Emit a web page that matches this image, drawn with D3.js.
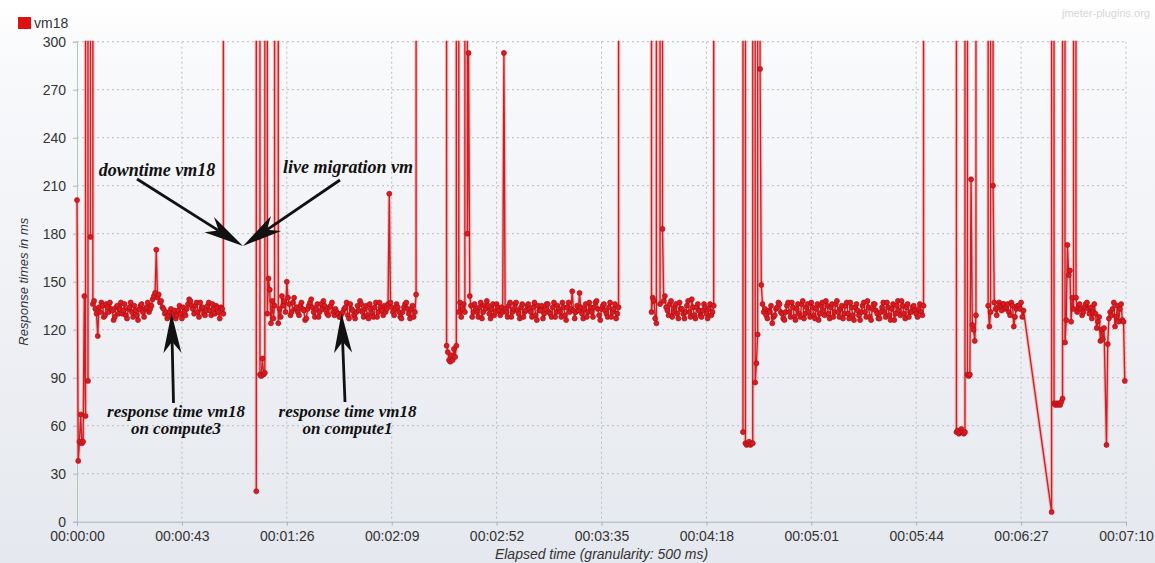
<!DOCTYPE html>
<html><head><meta charset="utf-8">
<script src="https://cdn.jsdelivr.net/npm/d3@7/dist/d3.min.js"></script>
<style>html,body{margin:0;padding:0;background:#fff;}svg{display:block;}</style>
</head><body>
<svg id="c" width="1155" height="563"></svg>
<script>
// ---------- data (elapsed seconds, response ms); 20000 = far above the 300 ms axis ----------
const seriesName = "vm18";
const yTickValues = [0,30,60,90,120,150,180,210,240,270,300];
const xTickSeconds = [0,43,86,129,172,215,258,301,344,387,430];
const xTickLabels = ["00:00:00","00:00:43","00:01:26","00:02:09","00:02:52","00:03:35","00:04:18","00:05:01","00:05:44","00:06:27","00:07:10"];

const seg1 = [[0,201],[0.5,38],[1,50],[1.5,67],[2,49],[2.5,50],[3,141],[3.5,66],[4,20000],[4.5,88],[5,20000],[5.5,178],[6,20000],
[6.5,136],[7,138],[7.5,133],[8,130],[8.5,116],[9,134],[9.5,131],[10,137],[10.5,135],[11,128],[11.5,129],[12,136],[12.5,134],[13,131],[13.5,137],[14,133],[14.5,132],[15,126],[15.5,128],[16,134],[16.5,135],[17,130],[17.5,133],[18,137],[18.5,130],[19,132],[19.5,136],[20,129],[20.5,127],[21,133],[21.5,134],[22,137],[22.5,131],[23,128],[23.5,135],[24,132],[24.5,129],[25,126],[25.5,133],[26,135],[26.5,136],[27,131],[27.5,128],[28,133],[28.5,134],[29,137],[29.5,131],[30,133],[30.5,135],[31,139],[31.5,141],[32,143],[32.5,170],[33,140],[33.5,142],[34,137],[34.5,138],[35,134],[35.5,133],[36,130],[36.5,131],[37,127],[37.5,129],[38,131],[38.5,133],[39,128],[39.5,130],[40,132],[40.5,127],[41,129],[41.5,132],[42,135],[42.5,130],[43,127],[43.5,134],[44,131],[44.5,129],[45,133],[45.5,136],[46,139],[46.5,138],[47,135],[47.5,133],[48,130],[48.5,135],[49,137],[49.5,131],[50,128],[50.5,137],[51,133],[51.5,134],[52,130],[52.5,129],[53,132],[53.5,135],[54,137],[54.5,132],[55,129],[55.5,136],[56,133],[56.5,130],[57,135],[57.5,134],[58,131],[58.5,127],[59,134],[59.5,133],[60,130],[60.5,20000]];

const seg2 = [[73,20000],[73.5,19],[74,20000],[74.5,20000],[75,92],[75.5,91],[76,102],[76.5,92],[77,93],[77.5,20000],[78,130],[78.5,152],[79,145],[79.5,124],[80,138],[80.5,127],[81,135],[82,20000],[82.5,124],[83,133],[83.5,128],[84,141],[84.5,135],[85,138],[85.5,131],[86,150],[86.5,140],[87,136],[87.5,129],[88,131],[88.5,137],[89,140],[89.5,133],
[90,134],[90.5,131],[91,129],[91.5,135],[92,137],[92.5,133],[93,132],[93.5,126],[94,127],[94.5,133],[95,135],[95.5,137],[96,139],[96.5,134],[97,131],[97.5,128],[98,133],[98.5,136],[99,128],[99.5,131],[100,136],[100.5,133],[101,138],[101.5,135],[102,132],[102.5,130],[103,129],[103.5,134],[104,135],[104.5,137],[105,131],[105.5,129],[106,133],[106.5,131],[107,130],[107.5,128],[108,128],[108.5,130],[109,131],[109.5,133],[110,134],[110.5,137],[111,129],[111.5,127],[112,136],[112.5,133],[113,132],[113.5,129],[114,127],[114.5,131],[115,135],[115.5,132],[116,138],[116.5,136],[117,131],[117.5,128],[118,133],[118.5,135],[119,129],[119.5,127],[120,136],[120.5,133],[121,130],[121.5,128],[122,134],[122.5,137],[123,128],[123.5,131],[124,137],[124.5,134],[125,132],[125.5,129],[126,135],[126.5,131],[127,133],[127.5,136],[128,205],[128.5,137],[129,134],[129.5,131],[130,129],[130.5,133],[131,136],[131.5,134],[132,131],[132.5,128],[133,127],[133.5,131],[134,134],[134.5,136],[135,137],[135.5,133],[136,130],[136.5,127],[137,133],[137.5,135],[138,128],[138.5,131],[139,142],[139.5,20000]];

const seg3 = [[151,20000],[151.5,110],[152,106],[152.5,101],[153,100],[153.5,104],[154,101],[154.5,108],[155,103],[155.5,110],[156,20000],[156.5,131],[157,137],[157.5,128],[158,133],[158.5,136],[159,131],[159.5,20000],[160,180],[160.5,293],[161,141],[161.5,135],
[162,128],[162.5,131],[163,136],[163.5,133],[164,131],[164.5,128],[165,134],[165.5,137],[166,127],[166.5,131],[167,135],[167.5,133],[168,138],[168.5,135],[169,130],[169.5,127],[170,133],[170.5,136],[171,129],[171.5,131],[172,136],[172.5,134],[173,132],[173.5,129],[174,134],[174.5,131],[175,293],[175.5,133],[176,131],[176.5,128],[177,135],[177.5,137],[178,128],[178.5,131],[179,133],[179.5,136],[180,137],[180.5,132],[181,130],[181.5,127],[182,134],[182.5,136],[183,128],[183.5,131],[184,132],[184.5,135],[185,136],[185.5,133],[186,131],[186.5,128],[187,134],[187.5,137],[188,129],[188.5,126],[189,135],[189.5,132],[190,132],[190.5,135],[191,127],[191.5,130],[192,133],[192.5,136],[193,136],[193.5,131],[194,130],[194.5,128],[195,134],[195.5,137],[196,128],[196.5,131],[197,135],[197.5,133],[198,131],[198.5,128],[199,137],[199.5,134],[200,129],[200.5,126],[201,134],[201.5,137],[202,131],[202.5,133],[203,144],[203.5,132],[204,127],[204.5,131],[205,135],[205.5,132],[206,143],[206.5,134],[207,130],[207.5,127],[208,133],[208.5,136],[209,128],[209.5,131],[210,137],[210.5,134],[211,131],[211.5,128],[212,134],[212.5,137],[213,138],[213.5,133],[214,129],[214.5,126],[215,133],[215.5,135],[216,136],[216.5,132],[217,130],[217.5,128],[218,134],[218.5,137],[219,128],[219.5,131],[220,133],[220.5,136],[221,127],[221.5,130],[222,134],[222.5,20000]];

const seg4 = [[235,20000],[235.5,131],[236,140],[236.5,138],[237,127],[237.5,124],[238,20000],[239,136],[239.5,20000],[240,183],[240.5,138],
[241,141],[241.5,134],[242,132],[242.5,129],[243,136],[243.5,138],[244,128],[244.5,131],[245,134],[245.5,136],[246,130],[246.5,127],[247,137],[247.5,133],[248,133],[248.5,130],[249,127],[249.5,131],[250,135],[250.5,138],[251,131],[251.5,128],[252,139],[252.5,134],[253,129],[253.5,127],[254,134],[254.5,136],[255,132],[255.5,129],[256,128],[256.5,132],[257,136],[257.5,134],[258,130],[258.5,127],[259,133],[259.5,136],[260,129],[260.5,131],[261,135],[261.5,20000]];

const seg5 = [[272.5,20000],[273,56],[273.5,20000],[274,49],[274.5,48],[275,49],[275.5,50],[276,48],[276.5,49],[277,49],[277.5,20000],[278,87],[278.5,99],[279,117],[279.5,20000],[280,283],[280.5,148],
[281,136],[281.5,131],[282,133],[282.5,129],[283,127],[283.5,132],[284,131],[284.5,135],[285,124],[285.5,128],[286,129],[286.5,133],[287,134],[287.5,137],[288,136],[288.5,131],[289,130],[289.5,127],[290,126],[290.5,131],[291,135],[291.5,137],[292,131],[292.5,128],[293,137],[293.5,134],[294,128],[294.5,126],[295,133],[295.5,136],[296,130],[296.5,128],[297,136],[297.5,138],[298,127],[298.5,130],[299,134],[299.5,136],[300,131],[300.5,128],[301,137],[301.5,134],[302,129],[302.5,127],[303,133],[303.5,136],[304,126],[304.5,130],[305,135],[305.5,137],[306,132],[306.5,129],[307,138],[307.5,135],[308,130],[308.5,127],[309,134],[309.5,136],[310,128],[310.5,131],[311,136],[311.5,138],[312,131],[312.5,128],[313,133],[313.5,135],[314,127],[314.5,130],[315,135],[315.5,137],[316,130],[316.5,127],[317,137],[317.5,134],[318,129],[318.5,126],[319,134],[319.5,136],[320,132],[320.5,129],[321,126],[321.5,131],[322,135],[322.5,137],[323,131],[323.5,128],[324,138],[324.5,134],[325,128],[325.5,126],[326,133],[326.5,136],[327,136],[327.5,132],[328,130],[328.5,127],[329,127],[329.5,131],[330,134],[330.5,137],[331,131],[331.5,128],[332,137],[332.5,134],[333,129],[333.5,126],[334,133],[334.5,136],[335,126],[335.5,130],[336,135],[336.5,138],[337,132],[337.5,129],[338,138],[338.5,135],[339,130],[339.5,127],[340,134],[340.5,136],[341,128],[341.5,131],[342,131],[342.5,134],[343,135],[343.5,132],[344,130],[344.5,128],[345,133],[345.5,136],[346,131],[346.5,129],[347,135],[347.5,20000]];

const seg6 = [[360,20000],[360.5,56],[361,57],[361.5,55],[362,56],[362.5,58],[363,56],[363.5,55],[364,56],[364.5,20000],[365,92],[365.5,91],[366,92],[366.5,214],[367,123],[367.5,120],[368,113],[368.5,129],[369,20000],
[373,20000],[373.5,135],[374,122],[374.5,131],[375,20000],[375.5,210],[376,137],[376.5,133],[377,129],[377.5,134],[378,137],[378.5,135],[379,132],[379.5,136],[380,136],[380.5,133],[381,134],[381.5,136],[382,131],[382.5,129],[383,137],[383.5,135],[384,122],[384.5,128],[385,133],[385.5,135],[386,135],[386.5,133],[387,137],[387.5,128],[388,132],
[399.5,6],[400,20000],[400.5,74],[401,73],[401.5,74],[402,73],[402.5,74],[403,73],[403.5,75],[404,77],[404.5,20000],[405,112],[405.5,126],[406,173],[406.5,154],[407,157],[407.5,125],[408,140],[408.5,133],[409,20000],[409.5,140],
[410,131],[410.5,134],[411,136],[411.5,133],[412,129],[412.5,131],[413,134],[413.5,136],[414,137],[414.5,133],[415,130],[415.5,134],[416,127],[416.5,131],[417,136],[417.5,130],[418,121],[418.5,125],[419,128],[419.5,113],[420,120],[420.5,114],[421,121],[422,48],[422.5,111],[423,127],[423.5,131],[424,129],[424.5,133],[425,137],[425.5,122],[426,128],[426.5,135],[427,125],[427.5,133],[428,136],[428.5,126],[429,125],[429.5,88]];

const responseData = [].concat(seg1, seg2, seg3, seg4, seg5, seg6);

// ---------- annotations ----------
const annotations = [
  {lines:["downtime vm18"], x:157, y:176, size:18},
  {lines:["live migration vm"], x:348, y:173, size:18},
  {lines:["response time vm18","on compute3"], x:176, y:417, size:17},
  {lines:["response time vm18","on compute1"], x:347.5, y:417, size:17}
];
const arrows = [
  {from:[137,179], to:[243,246]},
  {from:[340,180], to:[243,246]},
  {from:[173.5,403], to:[171.5,313]},
  {from:[345,402], to:[341.5,313]}
];

// ---------- drawing ----------
const svg = d3.select("#c");
const W = 1155, H = 563;
const L = 77, R = 1126, T = 41.7, B = 521.7;

const defs = svg.append("defs");
const grad = defs.append("linearGradient").attr("id","bg").attr("x1",0).attr("y1",0).attr("x2",0).attr("y2",1);
grad.append("stop").attr("offset","0%").attr("stop-color","#ffffff");
grad.append("stop").attr("offset","12%").attr("stop-color","#f8f9fb");
grad.append("stop").attr("offset","100%").attr("stop-color","#e5e8ee");
defs.append("clipPath").attr("id","clip").append("rect")
  .attr("x",L-4).attr("y",T-1).attr("width",R-L+8).attr("height",B-T+5);

svg.append("rect").attr("width",W).attr("height",H).attr("fill","url(#bg)");

const x = d3.scaleLinear().domain([0,430]).range([L,R]);
const y = d3.scaleLinear().domain([0,300]).range([B,T]);

// grid
const grid = svg.append("g");
grid.selectAll("line.h").data(yTickValues.filter(v=>v>0)).join("line")
  .attr("x1",L).attr("x2",R).attr("y1",d=>y(d)).attr("y2",d=>y(d))
  .attr("stroke","#b9bcc2").attr("stroke-width",1).attr("stroke-dasharray","2,3");
grid.selectAll("line.v").data(xTickSeconds.filter(v=>v>0)).join("line")
  .attr("x1",d=>x(d)).attr("x2",d=>x(d)).attr("y1",T).attr("y2",B)
  .attr("stroke","#b9bcc2").attr("stroke-width",1).attr("stroke-dasharray","2,3");

// axes
const yAxis = svg.append("g").attr("transform",`translate(${L},0)`)
  .call(d3.axisLeft(y).tickValues(yTickValues).tickSize(4).tickPadding(7));
yAxis.select(".domain").attr("stroke","#a8cdb4");
yAxis.selectAll(".tick line").attr("stroke","#b0b4bb");
yAxis.selectAll("text").attr("font-family","'Liberation Sans',Arial,sans-serif").attr("font-size",14).attr("fill","#333");

const xAxis = svg.append("g").attr("transform",`translate(0,${B})`)
  .call(d3.axisBottom(x).tickValues(xTickSeconds).tickFormat((d,i)=>xTickLabels[i]).tickSize(4).tickPadding(5));
xAxis.select(".domain").attr("stroke","#a9b1c0");
xAxis.selectAll(".tick line").attr("stroke","#a9b1c0");
xAxis.selectAll("text").attr("font-family","'Liberation Sans',Arial,sans-serif").attr("font-size",14).attr("fill","#333");

// axis titles
svg.append("text").attr("x",(L+R)/2).attr("y",559).attr("text-anchor","middle")
  .attr("font-family","'Liberation Sans',Arial,sans-serif").attr("font-size",14).attr("font-style","italic").attr("fill","#333")
  .text("Elapsed time (granularity: 500 ms)");
svg.append("text").attr("transform",`translate(28,${(T+B)/2}) rotate(-90)`).attr("text-anchor","middle")
  .attr("font-family","'Liberation Sans',Arial,sans-serif").attr("font-size",13).attr("font-style","italic").attr("fill","#333")
  .text("Response times in ms");

// legend
svg.append("rect").attr("x",18).attr("y",17).attr("width",13).attr("height",12).attr("fill","#dd1111");
svg.append("text").attr("x",34).attr("y",28).attr("font-family","'Liberation Sans',Arial,sans-serif")
  .attr("font-size",14).attr("fill","#333").text(seriesName);

// watermark
svg.append("text").attr("x",1150).attr("y",17).attr("text-anchor","end")
  .attr("font-family","'Liberation Sans',Arial,sans-serif").attr("font-size",11).attr("fill","#d4d6da")
  .text("jmeter-plugins.org");

// series
const plot = svg.append("g").attr("clip-path","url(#clip)");
const line = d3.line().x(d=>x(d[0])).y(d=>y(d[1]));
plot.append("path").datum(responseData).attr("d",line).attr("fill","none")
  .attr("stroke","#f19a9a").attr("stroke-width",3.6).attr("stroke-opacity",0.55).attr("stroke-linejoin","round");
plot.append("path").datum(responseData).attr("d",line).attr("fill","none")
  .attr("stroke","#cf1f24").attr("stroke-width",1.4).attr("stroke-linejoin","round");
plot.selectAll("circle").data(responseData.filter(d=>d[1]<=300)).join("circle")
  .attr("cx",d=>x(d[0])).attr("cy",d=>y(d[1])).attr("r",2.5)
  .attr("fill","#e0191d").attr("stroke","#a31318").attr("stroke-width",0.7);

// annotations
const ann = svg.append("g").attr("font-family","'Liberation Serif','Times New Roman',serif")
  .attr("font-weight","bold").attr("font-style","italic").attr("fill","#111");
annotations.forEach(a=>{
  a.lines.forEach((t,i)=>{
    ann.append("text").attr("x",a.x).attr("y",a.y + i*a.size).attr("text-anchor","middle")
      .attr("font-size",a.size).text(t);
  });
});
arrows.forEach(a=>{
  const [x1,y1]=a.from,[x2,y2]=a.to;
  const ang = Math.atan2(y2-y1,x2-x1);
  const len = 40, wid = 9;
  const ux=Math.cos(ang), uy=Math.sin(ang), px=-uy, py=ux;
  const bx = x2 - ux*len, by = y2 - uy*len;
  const nx = x2 - ux*len*0.72, ny = y2 - uy*len*0.72;
  svg.append("line").attr("x1",x1).attr("y1",y1).attr("x2",nx).attr("y2",ny)
    .attr("stroke","#111").attr("stroke-width",2.8);
  svg.append("path").attr("d",`M${x2},${y2}L${bx+px*wid},${by+py*wid}L${nx},${ny}L${bx-px*wid},${by-py*wid}Z`)
    .attr("fill","#111");
});
</script>
</body></html>
